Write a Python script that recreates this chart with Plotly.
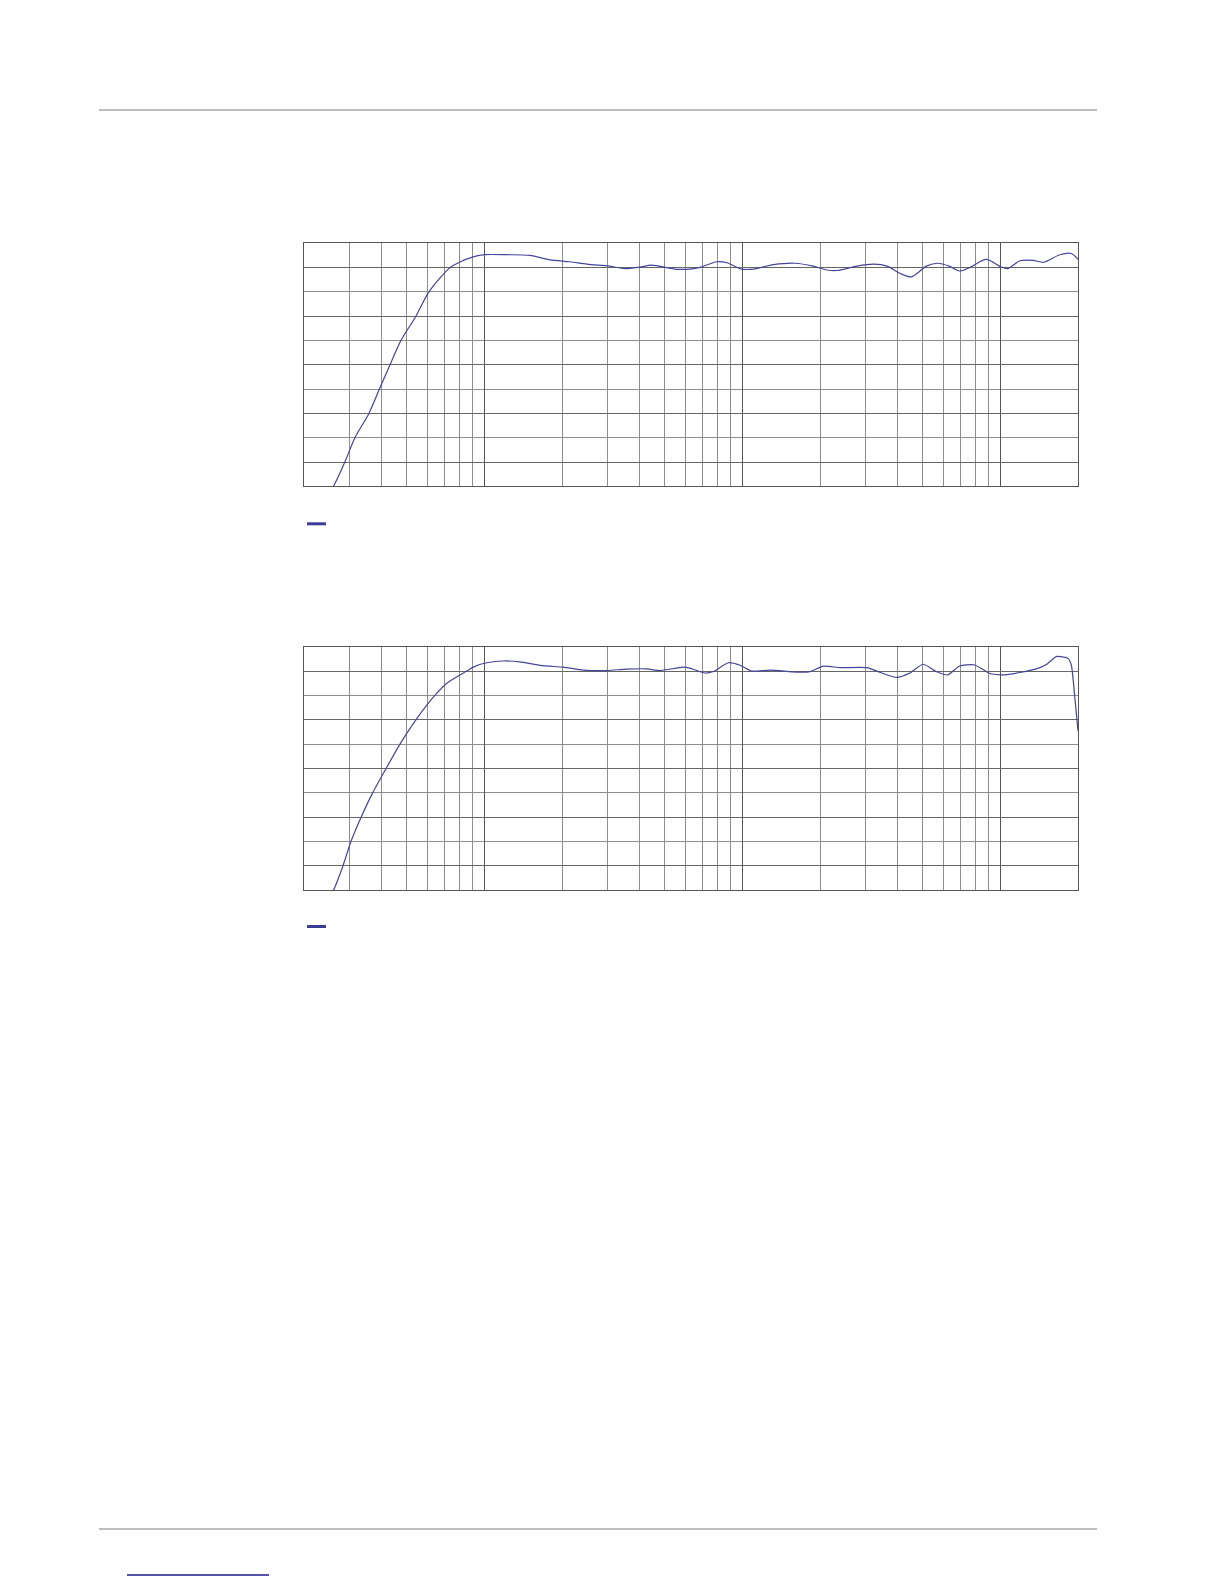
import math

import plotly.graph_objects as go

# ── Data: two frequency-response curves (Hz, dB) ─────────────────────────────
freq_top = [25, 26, 28.8, 31.5, 35.7, 39.2, 43.1, 47.5, 54.3, 61.0, 73.6, 80, 90.6,
            100, 122, 150, 180, 215, 250, 306, 350, 400, 444, 556, 626, 686, 796, 871, 990,
            1106, 1322, 1598, 1884, 2126, 2328, 2780, 3230, 3640, 4090, 4520, 5170, 5720,
            6340, 6930, 7600, 8820, 10000, 10700, 11900, 13400, 14700, 17000, 18840, 20000]
spl_top = [43.8, 45.0, 50.0, 55.0, 60.0, 65.0, 70.0, 75.0, 80.0, 85.0, 90.0, 91.1, 92.2,
           92.65, 92.65, 92.5, 91.6, 91.2, 90.7, 90.3, 89.8, 90.1, 90.5, 89.65, 89.7, 90.06, 91.2, 91.0, 89.7,
           89.7, 90.6, 90.9, 90.3, 89.5, 89.4, 90.3, 90.7, 90.3, 88.8, 88.1, 90.3, 90.9,
           90.3, 89.3, 90.0, 91.7, 90.2, 89.8, 91.4, 91.5, 91.1, 92.65, 92.9, 91.7]

freq_bottom = [25, 26, 28.3, 30.4, 33.3, 36.9, 41.6, 47.1, 54.3, 64.3, 72, 85.4, 90.6, 100, 118.6,
               137, 169, 202, 242, 298, 356, 426, 478, 590, 626, 716, 772, 882, 980, 1088, 1282,
               1622, 1830, 2064, 2398, 3040, 3430, 3970, 4460, 5020, 5640, 6240, 6930, 7960,
               9100, 10220, 11900, 14060, 15140, 16540, 18300, 18840, 19400, 20000]
spl_bottom = [43.8, 45.0, 50.0, 55.0, 60.0, 65.0, 70.0, 75.0, 80.0, 85.0, 87.6, 90.0, 90.8, 91.6, 92.06,
              91.9, 91.1, 90.8, 90.2, 90.1, 90.4, 90.45, 90.1, 90.8, 90.6, 89.6, 89.9, 91.7, 91.2, 90.0, 90.2,
              89.8, 89.9, 91.0, 90.7, 90.7, 89.7, 88.7, 89.6, 91.4, 89.9, 89.2, 91.0, 91.25,
              89.5, 89.2, 89.7, 90.6, 91.4, 93.0, 92.6, 91.25, 85.1, 77.7]

# grid layout of the log frequency axis
decades = [100, 1000, 10000]
grid_freqs = [30, 40, 50, 60, 70, 80, 90, 200, 300, 400, 500, 600, 700, 800, 900,
              2000, 3000, 4000, 5000, 6000, 7000, 8000, 9000]
short_ticks = [25, 35, 45, 150, 250, 350, 450, 1500, 2500, 3500, 4500, 15000]
db_range = [45, 95]

LINE = "#45459a"
DARK = "#555555"
GRID = "#8e8e8e"

# page is 1224x1584, body has an 8px margin around the plot div
W, H, OFF = 1208, 1568, 8


def px(x):
    return (x - OFF) / W


def py(y):
    return 1 - (y - OFF) / H


def freq_axis(domain, anchor):
    return dict(type="log", range=[math.log10(20), math.log10(20000)], domain=domain, anchor=anchor,
                tickvals=decades, ticks="", showticklabels=False,
                showgrid=True, gridcolor=DARK, gridwidth=1.3,
                minor=dict(tickvals=grid_freqs, showgrid=True, gridcolor=GRID, gridwidth=1, ticks=""),
                showline=True, linecolor=DARK, linewidth=1.3, mirror=True, zeroline=False)


def tick_axis(over, anchor, domain):
    # short half-step ticks along the top and bottom frame
    return dict(type="log", range=[math.log10(20), math.log10(20000)], overlaying=over, anchor=anchor,
                domain=domain, tickvals=short_ticks, ticks="inside", ticklen=4, tickcolor=GRID,
                tickwidth=1, showticklabels=False, showgrid=False, showline=False, mirror="ticks",
                zeroline=False)


def db_axis(domain, anchor):
    return dict(range=db_range, domain=domain, anchor=anchor, tickmode="linear", tick0=50, dtick=10,
                showticklabels=False, ticks="", showgrid=True, gridcolor="#666666", gridwidth=1.2,
                minor=dict(tick0=45, dtick=5, showgrid=True, gridcolor=GRID, gridwidth=1, ticks=""),
                showline=True, linecolor=DARK, linewidth=1.3, mirror=True, zeroline=False)


fig = go.Figure()
fig.add_trace(go.Scatter(x=freq_top, y=spl_top, mode="lines", xaxis="x", yaxis="y",
                         line=dict(color=LINE, width=1.2, shape="spline", smoothing=0.8),
                         showlegend=False))
fig.add_trace(go.Scatter(x=freq_bottom, y=spl_bottom, mode="lines", xaxis="x2", yaxis="y2",
                         line=dict(color=LINE, width=1.2, shape="spline", smoothing=0.6),
                         showlegend=False))

xdom = [px(304), px(1078)]
ydom_top = [py(486.3), py(243.3)]
ydom_bottom = [py(890.3), py(646.7)]

fig.update_layout(
    width=W, height=H, margin=dict(l=0, r=0, t=0, b=0),
    paper_bgcolor="white", plot_bgcolor="white", showlegend=False,
    xaxis=freq_axis(xdom, "y"), yaxis=db_axis(ydom_top, "x"),
    xaxis2=freq_axis(xdom, "y2"), yaxis2=db_axis(ydom_bottom, "x2"),
    xaxis3=tick_axis("x", "y", xdom), xaxis4=tick_axis("x2", "y2", xdom),
)

# page rules, legend swatches and the footer link underline
shapes = [
    dict(x0=px(99), x1=px(1097), y0=py(110), y1=py(110), color="#a8a8a8", width=1.5),
    dict(x0=px(99), x1=px(1097), y0=py(1529), y1=py(1529), color="#a8a8a8", width=1.5),
    dict(x0=px(307), x1=px(326), y0=py(523.8), y1=py(523.8), color="#3c3c96", width=3),
    dict(x0=px(307), x1=px(326), y0=py(926.5), y1=py(926.5), color="#3c3c96", width=3),
    dict(x0=px(127), x1=px(269), y0=py(1575), y1=py(1575), color="#1a1a8c", width=1.5),
]
for s in shapes:
    fig.add_shape(type="line", xref="paper", yref="paper", x0=s["x0"], x1=s["x1"],
                  y0=s["y0"], y1=s["y1"], line=dict(color=s["color"], width=s["width"]))

fig.write_html("out.html")
